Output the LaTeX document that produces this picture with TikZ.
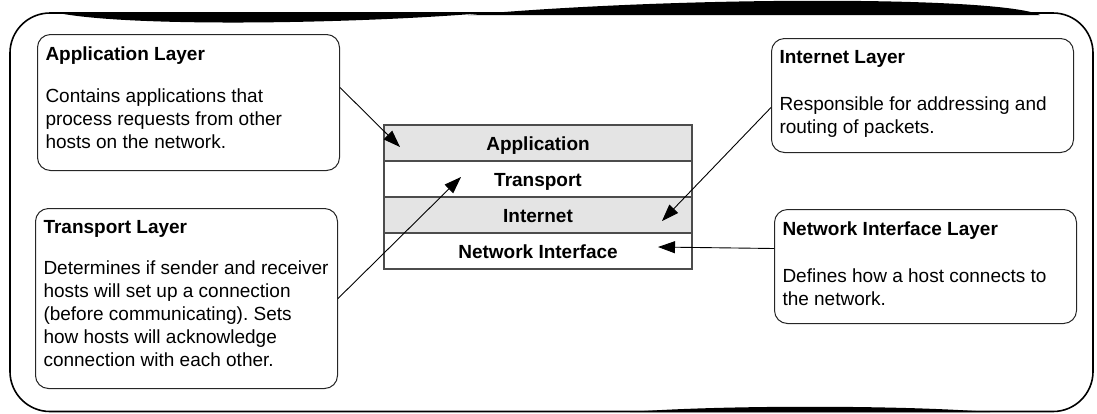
\documentclass[tikz,border=0pt]{standalone}
\usepackage{fontspec}
\setmainfont{Liberation Sans}
\usepackage{tikz}
\usetikzlibrary{arrows.meta, positioning}

\definecolor{rowgray}{HTML}{E4E4E4}
\newcommand{\layerinfo}[4]{\parbox[t][#1][t]{286pt}{\frenchspacing\textbf{#3}\\[#2]#4}}

\begin{document}
\begin{tikzpicture}[
    x=1pt, y=-1pt,
    font=\fontsize{19}{23}\selectfont,
    frame/.style={line width=1.6pt, rounded corners=40pt},
    info/.style={draw=black!85, line width=1pt, rounded corners=13pt, anchor=north west, inner xsep=8pt, inner ysep=12pt, align=left},
    row/.style={draw=black!70, line width=1.2pt, minimum width=308pt, minimum height=36pt, inner sep=0pt, outer sep=0pt, text height=14pt, text depth=0pt, font=\fontsize{19}{23}\selectfont\bfseries},
    shaded/.style={row, fill=rowgray},
    arrow/.style={-{Triangle[length=17pt, width=12pt]}, line width=0.9pt}
]
\useasboundingbox (0,0) rectangle (1097,413);
% outer frame
\draw[frame] (10,13) rectangle (1093,411.5);
\fill (58,13) .. controls (130,27) and (340,24) .. (472,14) -- cycle;
\fill (468,15) .. controls (680,-4) and (1000,-4) .. (1040,15) -- cycle;
\fill (630,412) .. controls (720,405) and (900,405) .. (990,412) -- cycle;
% layer stack
\node[shaded] (app) at (538,143) {Application};
\node[row, below=0pt of app] (trans) {Transport};
\node[shaded, below=0pt of trans] (inet) {Internet};
\node[row, below=0pt of inet] (netif) {Network Interface};
% descriptions
\node[info] (appinfo) at (37,34) {\layerinfo{112pt}{19pt}{Application Layer}{Contains applications that\\process requests from other\\hosts on the network.}};
\node[info] (transinfo) at (35,208) {\layerinfo{156pt}{18pt}{Transport Layer}{Determines if sender and receiver\\hosts will set up a connection\\(before communicating). Sets\\how hosts will acknowledge\\connection with each other.}};
\node[info] (inetinfo) at (771,38) {\layerinfo{90pt}{24pt}{Internet Layer}{Responsible for addressing and\\routing of packets.}};
\node[info] (netifinfo) at (774,209) {\layerinfo{90pt}{24pt}{Network Interface Layer}{Defines how a host connects to\\the network.}};
% pointers
\draw[arrow] ([yshift=15pt]appinfo.east) -- ([xshift=16pt, yshift=-4pt]app.west);
\draw[arrow] (transinfo.east) -- ([xshift=77pt, yshift=2pt]trans.west);
\draw[arrow] ([yshift=-12pt]inetinfo.west) -- ([xshift=-30pt, yshift=-6pt]inet.east);
\draw[arrow] ([yshift=18pt]netifinfo.west) -- ([xshift=-34pt, yshift=4pt]netif.east);
\end{tikzpicture}
\end{document}
